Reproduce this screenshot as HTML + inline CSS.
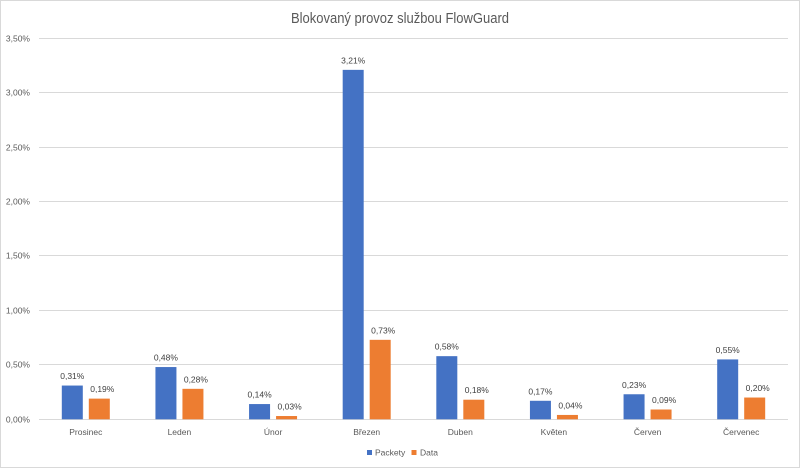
<!DOCTYPE html>
<html>
<head>
<meta charset="utf-8">
<style>
html,body{margin:0;padding:0;background:#fff;}
svg{display:block;font-family:"Liberation Sans",sans-serif;}
</style>
</head>
<body>
<svg width="800" height="468" viewBox="0 0 800 468" xmlns="http://www.w3.org/2000/svg">
<rect x="0.5" y="0.5" width="799" height="467" fill="#fff" stroke="#d9d9d9"/>
<text x="400" y="23" font-size="15" fill="#595959" text-anchor="middle" textLength="218" lengthAdjust="spacingAndGlyphs">Blokovaný provoz službou FlowGuard</text>
<g stroke="#d9d9d9" stroke-width="1">
<line x1="39" x2="788" y1="38.5" y2="38.5"/>
<line x1="39" x2="788" y1="92.5" y2="92.5"/>
<line x1="39" x2="788" y1="147.5" y2="147.5"/>
<line x1="39" x2="788" y1="201.5" y2="201.5"/>
<line x1="39" x2="788" y1="255.5" y2="255.5"/>
<line x1="39" x2="788" y1="310.5" y2="310.5"/>
<line x1="39" x2="788" y1="364.5" y2="364.5"/>
<line x1="39" x2="788" y1="419.5" y2="419.5"/>
</g>
<g font-size="8.5" fill="#595959" text-anchor="end">
<text x="30" y="41.5">3,50%</text>
<text x="30" y="95.5">3,00%</text>
<text x="30" y="150.5">2,50%</text>
<text x="30" y="204.5">2,00%</text>
<text x="30" y="258.5">1,50%</text>
<text x="30" y="313.5">1,00%</text>
<text x="30" y="367.5">0,50%</text>
<text x="30" y="422.5">0,00%</text>
</g>
<g fill="#4472c4">
<rect x="61.8" y="385.55" width="21" height="33.75"/>
<rect x="155.44" y="367.05" width="21" height="52.25"/>
<rect x="249.06" y="404.06" width="21" height="15.24"/>
<rect x="342.69" y="69.86" width="21" height="349.44"/>
<rect x="436.31" y="356.16" width="21" height="63.14"/>
<rect x="529.94" y="400.79" width="21" height="18.51"/>
<rect x="623.56" y="394.26" width="21" height="25.04"/>
<rect x="717.19" y="359.43" width="21" height="59.87"/>
</g>
<g fill="#ed7d31">
<rect x="88.8" y="398.62" width="21" height="20.68"/>
<rect x="182.44" y="388.82" width="21" height="30.48"/>
<rect x="276.06" y="416.03" width="21" height="3.27"/>
<rect x="369.69" y="339.83" width="21" height="79.47"/>
<rect x="463.31" y="399.71" width="21" height="19.59"/>
<rect x="556.94" y="414.95" width="21" height="4.35"/>
<rect x="650.56" y="409.5" width="21" height="9.8"/>
<rect x="744.19" y="397.53" width="21" height="21.77"/>
</g>
<g font-size="8.5" fill="#404040" text-anchor="middle">
<text x="72.3" y="379">0,31%</text>
<text x="165.9" y="360.5">0,48%</text>
<text x="259.6" y="397.5">0,14%</text>
<text x="353.2" y="63.4">3,21%</text>
<text x="446.8" y="349.7">0,58%</text>
<text x="540.4" y="394.3">0,17%</text>
<text x="634.1" y="387.8">0,23%</text>
<text x="727.7" y="352.9">0,55%</text>
<text x="102.3" y="392.1">0,19%</text>
<text x="195.9" y="382.3">0,28%</text>
<text x="289.6" y="409.5">0,03%</text>
<text x="383.2" y="333.3">0,73%</text>
<text x="476.8" y="393.2">0,18%</text>
<text x="570.4" y="408.4">0,04%</text>
<text x="664.1" y="403">0,09%</text>
<text x="757.7" y="391">0,20%</text>
</g>
<g font-size="8.5" fill="#595959" text-anchor="middle">
<text x="85.8" y="435">Prosinec</text>
<text x="179.4" y="435">Leden</text>
<text x="273.1" y="435">Únor</text>
<text x="366.7" y="435">Březen</text>
<text x="460.3" y="435">Duben</text>
<text x="553.9" y="435">Květen</text>
<text x="647.6" y="435">Červen</text>
<text x="741.2" y="435">Červenec</text>
</g>
<rect x="367" y="450" width="5" height="5" fill="#4472c4"/>
<text x="375" y="455.5" font-size="8.5" fill="#595959">Packety</text>
<rect x="411.5" y="450" width="5" height="5" fill="#ed7d31"/>
<text x="420" y="455.5" font-size="8.5" fill="#595959">Data</text>
</svg>
</body>
</html>
